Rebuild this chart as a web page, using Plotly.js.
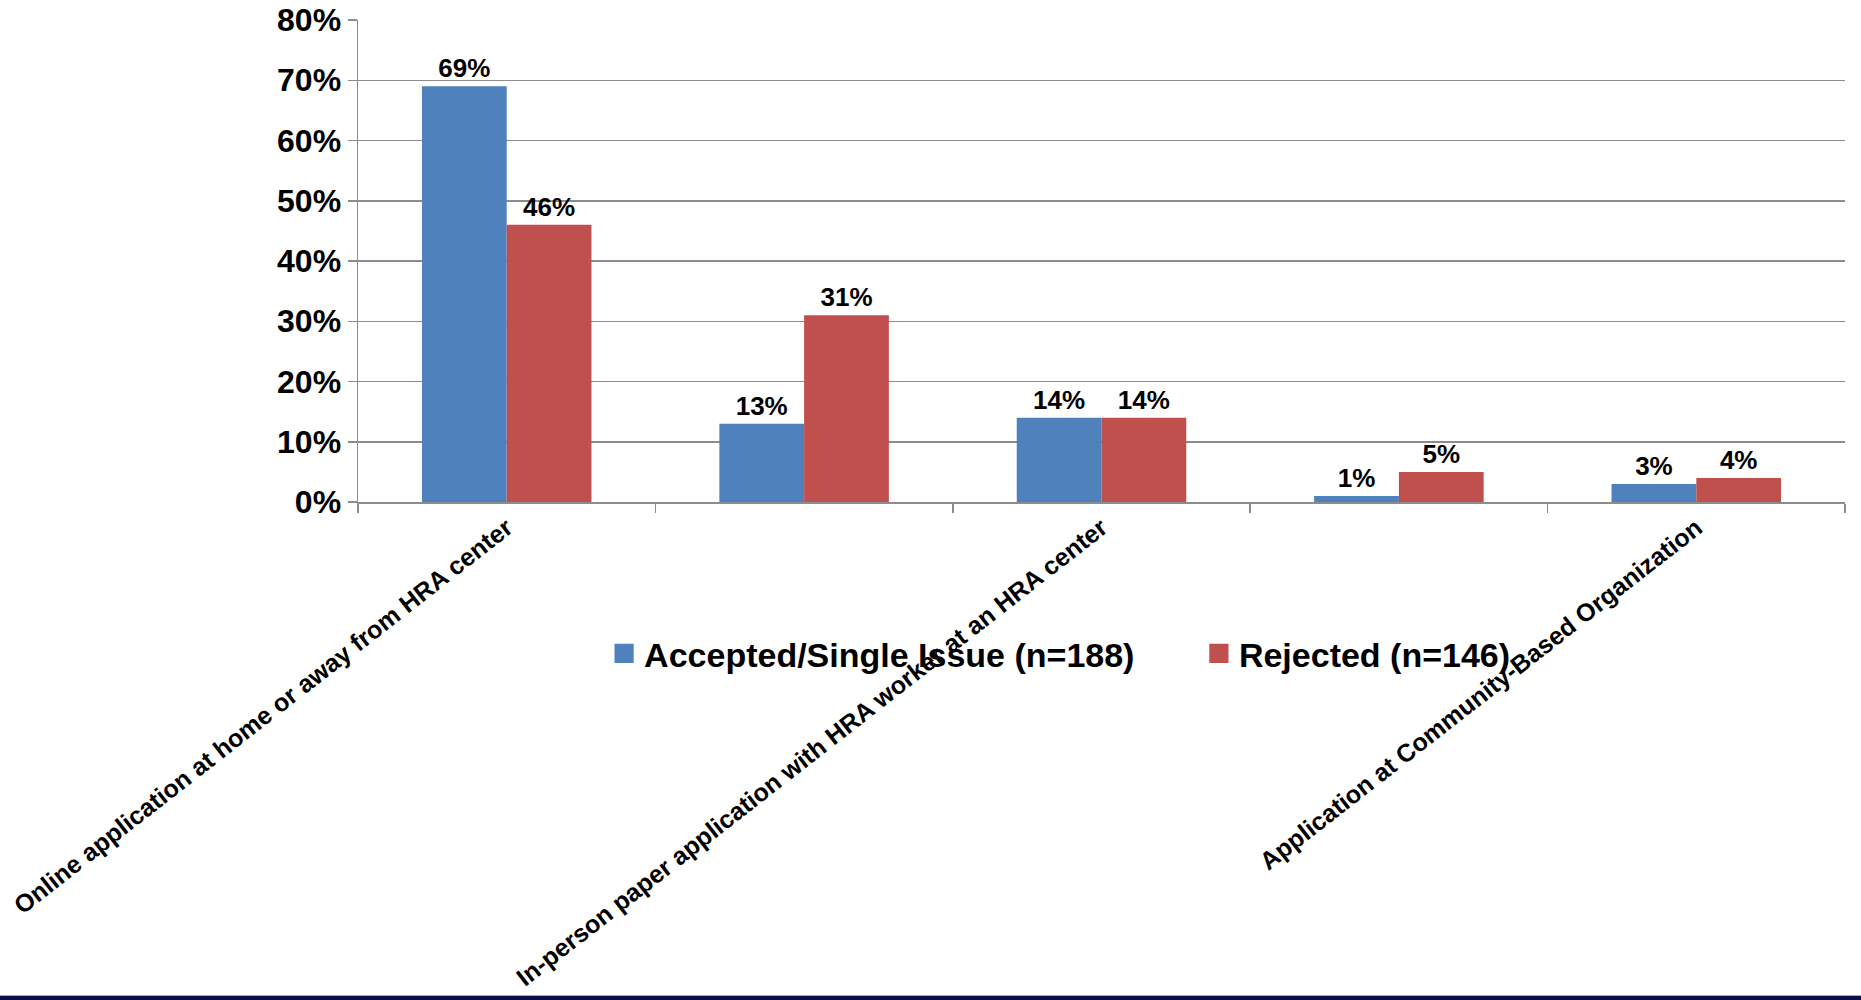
<!DOCTYPE html>
<html>
<head>
<meta charset="utf-8">
<script src="https://cdn.plot.ly/plotly-3.0.1.min.js"></script>
<style>
  html, body { margin: 0; padding: 0; background: #ffffff; overflow: hidden; }
  #chart { width: 1861px; height: 1000px; }
  #footer-band {
    position: fixed; left: 0; right: 0; bottom: 0; height: 4px;
    background: #0d0d4c; border-top: 1px solid #a9a9c9;
  }
</style>
</head>
<body>
<div id="chart"></div>
<div id="footer-band"></div>
<script>
// Application channel labels (only every other one is printed on the axis)
const categoryLabels = [
  "Online application at home or away from HRA center",
  "",
  "In-person paper application with HRA worker at an HRA center",
  "",
  "Application at Community-Based Organization"
];
const seriesNames = ["Accepted/Single Issue (n=188)", "Rejected (n=146)"];
// Share of applications in each channel, in percent
const acceptedPct = [69, 13, 14, 1, 3];
const rejectedPct = [46, 31, 14, 5, 4];
const yTickValues = [0, 10, 20, 30, 40, 50, 60, 70, 80];

const positions = categoryLabels.map((_, i) => i);
const boldFont = "Liberation Sans, Arial, sans-serif";

function barTrace(name, values, color, legendId) {
  return {
    type: "bar",
    name: name,
    legend: legendId,
    x: positions,
    y: values,
    marker: { color: color, line: { width: 0 } },
    text: values.map(v => v + "%"),
    textposition: "outside",
    cliponaxis: false,
    textfont: { family: boldFont, size: 26, color: "#000000", weight: 700 },
    hoverinfo: "skip"
  };
}

const data = [
  barTrace(seriesNames[0], acceptedPct, "#4F81BD", "legend"),
  barTrace(seriesNames[1], rejectedPct, "#C0504D", "legend2")
];

const gridGray = "#8c8c8c";
const legendFont = { family: boldFont, size: 34, color: "#000000", weight: 700 };

function legendAt(x) {
  return {
    orientation: "h",
    x: x,
    xanchor: "left",
    y: -0.315,
    yanchor: "middle",
    bgcolor: "rgba(0,0,0,0)",
    borderwidth: 0,
    font: legendFont
  };
}

const layout = {
  width: 1861,
  height: 1000,
  paper_bgcolor: "#ffffff",
  plot_bgcolor: "#ffffff",
  margin: { l: 358, r: 16, t: 20, b: 498, pad: 0 },
  barmode: "group",
  bargap: 0.43,
  bargroupgap: 0,
  showlegend: true,
  legend: legendAt(0.1655),
  legend2: legendAt(0.5655),
  xaxis: {
    type: "linear",
    range: [-0.5, 4.5],
    tickmode: "array",
    tickvals: positions,
    ticktext: categoryLabels,
    ticks: "",
    tickangle: -38,
    tickfont: { family: boldFont, size: 25, color: "#000000", weight: 700 },
    showgrid: false,
    zeroline: false,
    showline: true,
    linecolor: gridGray,
    linewidth: 1.5,
    minor: {
      tickmode: "array",
      tickvals: [-0.5, 0.5, 1.5, 2.5, 3.5, 4.5],
      ticks: "outside",
      ticklen: 9,
      tickwidth: 1.5,
      tickcolor: gridGray,
      showgrid: false
    },
    fixedrange: true
  },
  yaxis: {
    range: [0, 80],
    tickmode: "array",
    tickvals: yTickValues,
    ticktext: yTickValues.map(v => v + "%"),
    ticks: "outside",
    ticklen: 9,
    tickwidth: 1.5,
    tickcolor: gridGray,
    tickfont: { family: boldFont, size: 32, color: "#000000", weight: 700 },
    showgrid: true,
    gridcolor: gridGray,
    gridwidth: 1.5,
    zeroline: false,
    showline: true,
    linecolor: gridGray,
    linewidth: 1.5,
    fixedrange: true
  }
};

Plotly.newPlot("chart", data, layout, { displayModeBar: false, staticPlot: true }).then(gd => {
  // Enlarge the legend swatches to a bolder square
  gd.querySelectorAll(".legendpoints path").forEach(p => {
    const t = p.getAttribute("transform") || "";
    p.setAttribute("transform", t + " scale(1.6)");
  });
});
</script>
</body>
</html>
